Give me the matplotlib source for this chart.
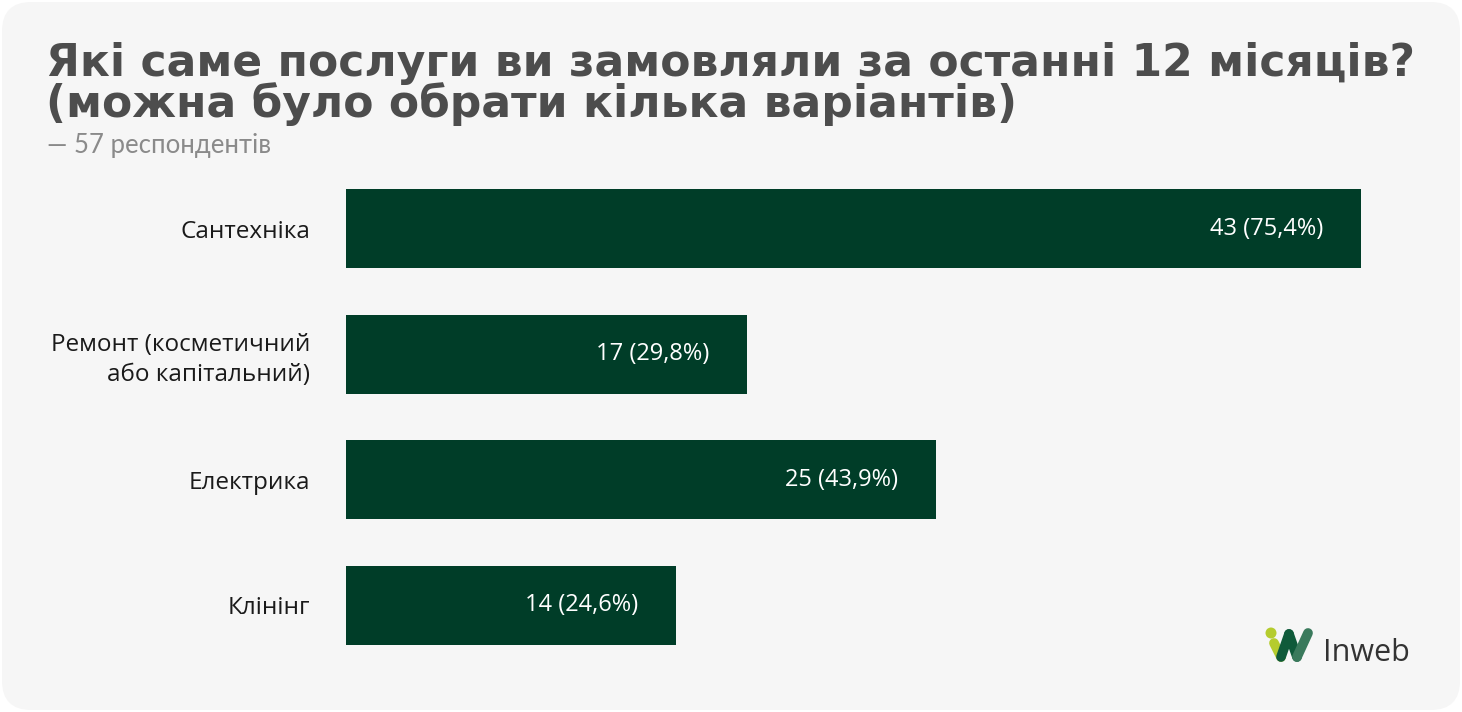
import matplotlib
matplotlib.use("Agg")
import matplotlib.pyplot as plt
from matplotlib.patches import FancyBboxPatch, Ellipse
from matplotlib.lines import Line2D

categories = ["Сантехніка", "Ремонт (косметичний\nабо капітальний)", "Електрика", "Клінінг"]
counts = [43, 17, 25, 14]
percents = ["75,4%", "29,8%", "43,9%", "24,6%"]
title = "Які саме послуги ви замовляли за останні 12 місяців?\n(можна було обрати кілька варіантів)"
subtitle = "— 57 респондентів"

W, H = 1462, 712
fig = plt.figure(figsize=(W / 100, H / 100), dpi=100)
fig.patch.set_facecolor("white")

bg = FancyBboxPatch((2 / W, 2 / H), (W - 4) / W, (H - 4) / H,
                    boxstyle="round,pad=0,rounding_size=0.02",
                    transform=fig.transFigure, facecolor="#f6f6f6",
                    edgecolor="none", mutation_aspect=W / H, zorder=-10)
fig.patches.append(bg)

def fx(px):
    return px / W

def fy(py):
    return 1 - py / H

fig.text(fx(46), fy(42), title, fontsize=31.7, fontweight="bold",
         color="#4d4d4d", family="DejaVu Sans", va="top", ha="left",
         linespacing=0.92)
fig.text(fx(47), fy(153), subtitle, fontsize=18.5, color="#8a8a8a",
         family="Lato", va="baseline", ha="left")

ax_left, ax_right = 346, 1361
ax_top, ax_bot = 165.7, 668.3
ax = fig.add_axes([fx(ax_left), fy(ax_bot), fx(ax_right - ax_left), (ax_bot - ax_top) / H])
ax.set_facecolor("none")
y = list(range(len(categories)))
ax.barh(y, counts, height=0.63, color="#003d28")
ax.set_xlim(0, max(counts))
ax.set_ylim(len(categories) - 0.5, -0.5)
ax.set_yticks(y)
ax.set_yticklabels(categories, fontsize=17.5, color="#1a1a1a", family="Open Sans",
                   linespacing=1.35)
for lab in ax.get_yticklabels():
    lab.set_horizontalalignment("right")
ax.tick_params(axis="y", length=0, pad=26)
ax.set_xticks([])
for s in ax.spines.values():
    s.set_visible(False)

for i, (c, p) in enumerate(zip(counts, percents)):
    ax.annotate(f"{c} ({p})", xy=(c, i), xytext=(-27.5, 0), textcoords="offset points",
                ha="right", va="center", color="white", fontsize=17, family="Open Sans")

# logo
lime = "#b5cc2e"
green1 = "#0f5a3a"
green2 = "#3a7a5c"
fig.patches.append(Ellipse((fx(1271), fy(633)), 11 / W, 11 / H, transform=fig.transFigure,
                           facecolor=lime, edgecolor="none"))
fig.lines.append(Line2D([fx(1274), fx(1281)], [fy(643), fy(657)], transform=fig.transFigure,
                        color=lime, lw=7, solid_capstyle="round"))
fig.lines.append(Line2D([fx(1281), fx(1289)], [fy(657), fy(634)], transform=fig.transFigure,
                        color=green1, lw=7, solid_capstyle="round"))
fig.lines.append(Line2D([fx(1289), fx(1297)], [fy(634), fy(657)], transform=fig.transFigure,
                        color=green1, lw=7, solid_capstyle="round"))
fig.lines.append(Line2D([fx(1297), fx(1308)], [fy(657), fy(633)], transform=fig.transFigure,
                        color=green2, lw=7, solid_capstyle="round"))
fig.text(fx(1323), fy(661), "Inweb", fontsize=22, color="#333333", family="Open Sans",
         va="baseline", ha="left")

fig.savefig("out.png", dpi=100, facecolor=fig.get_facecolor())
